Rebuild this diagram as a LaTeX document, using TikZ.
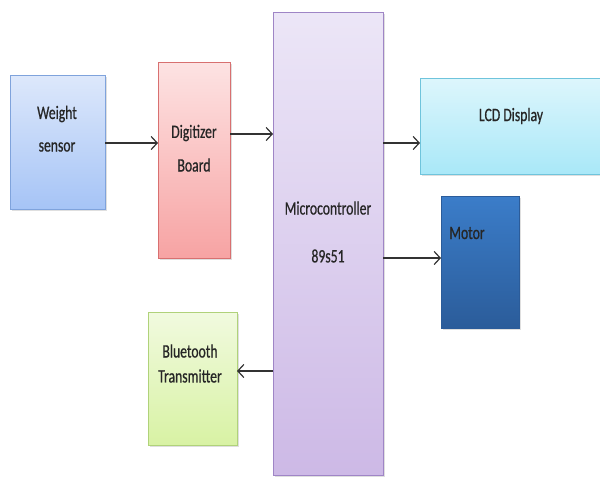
\documentclass[tikz,border=0pt]{standalone}
\usepackage{fontspec}
\setmainfont{Carlito}[FakeStretch=0.72,FakeBold=0.6]
\usetikzlibrary{shadows,arrows.meta}
\tikzset{
  blk/.style={draw, line width=1pt, inner sep=0pt, outer sep=0pt, rectangle,
    drop shadow={opacity=0.25, shadow xshift=1.5pt, shadow yshift=-2pt}},
  lbl/.style={font=\fontsize{19}{22}\selectfont, text=black!85, align=center, inner sep=0pt},
  arr/.style={draw=black!80, line width=1.2pt, -{Straight Barb[length=6pt,width=13pt,line width=1.2pt]}}
}
\begin{document}
\begin{tikzpicture}[x=1pt,y=-1pt]
\clip (0,0) rectangle (600,477);
\fill[white] (0,0) rectangle (600,477);
% boxes
\node[blk, draw={rgb,255:red,127;green,163;blue,220}, top color={rgb,255:red,221;green,232;blue,251}, bottom color={rgb,255:red,166;green,196;blue,246}, minimum width=95, minimum height=134] (ws) at (57.5,142) {};
\node[blk, draw={rgb,255:red,216;green,112;blue,112}, top color={rgb,255:red,253;green,227;blue,227}, bottom color={rgb,255:red,247;green,163;blue,163}, minimum width=72, minimum height=196] (dig) at (194,160) {};
\node[blk, draw={rgb,255:red,159;green,133;blue,198}, top color={rgb,255:red,236;green,230;blue,247}, bottom color={rgb,255:red,205;green,185;blue,230}, minimum width=110, minimum height=463] (mc) at (328,243.5) {};
\node[blk, draw={rgb,255:red,111;green,196;blue,220}, top color={rgb,255:red,221;green,246;blue,252}, bottom color={rgb,255:red,169;green,232;blue,248}, minimum width=190, minimum height=96] (lcd) at (515,126) {};
\node[blk, draw={rgb,255:red,43;green,92;blue,154}, top color={rgb,255:red,59;green,125;blue,201}, bottom color={rgb,255:red,43;green,92;blue,154}, minimum width=78, minimum height=132] (mot) at (480,262) {};
\node[blk, draw={rgb,255:red,176;green,210;blue,122}, top color={rgb,255:red,241;green,250;blue,223}, bottom color={rgb,255:red,216;green,242;blue,164}, minimum width=89, minimum height=133] (bt) at (192.5,378.5) {};
% labels
\node[lbl] (wst1) at (57,114) {Weight};
\node[lbl] (wst2) at (57,147) {sensor};
\node[lbl] (digt1) at (194,133) {Digitizer};
\node[lbl] (digt2) at (194,165) {Board};
\node[lbl] (mct1) at (328,208) {Microcontroller};
\node[lbl] (mct2) at (328,256) {89s51};
\node[lbl] (lcdt) at (511,116) {LCD Display};
\node[lbl] (mott) at (467,233) {Motor};
\node[lbl] (btt1) at (190,351) {Bluetooth};
\node[lbl] (btt2) at (190,376) {Transmitter};
% connectors
\draw[arr] (ws.east |- 0,143) -- (dig.west |- 0,143);
\draw[arr] (dig.east |- 0,134) -- (mc.west |- 0,134);
\draw[arr] (mc.east |- 0,143) -- (lcd.west |- 0,143);
\draw[arr] (mc.east |- 0,258) -- (mot.west |- 0,258);
\draw[arr] (mc.west |- 0,371) -- (bt.east |- 0,371);
\end{tikzpicture}
\end{document}
